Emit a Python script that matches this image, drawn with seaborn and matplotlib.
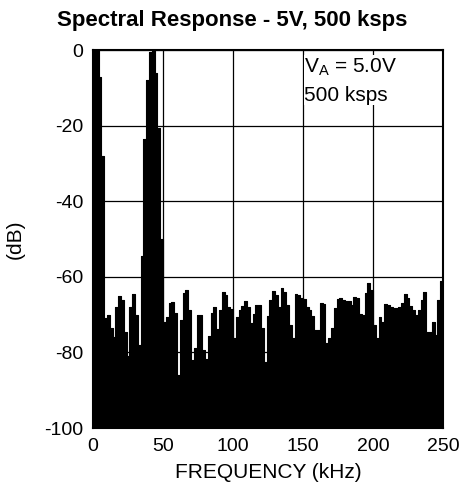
import numpy as np
import pandas as pd
import matplotlib
matplotlib.use('Agg')
import matplotlib.pyplot as plt
import seaborn as sns

# Spectrum levels, one per 2 kHz bin (0-250 kHz)
bin_width = 2.0
level_0_50 = [0, 0, -7, -28, -71, -70, -73.5, -76, -68, -65, -66, -74.5, -81,
              -68, -64.5, -70, -78, -54.5, -23.6, -7.8, -0.4, 0, -6, -20.7, -50]
level_50_100 = [-72, -70.5, -67, -66.6, -69.6, -86, -71.4, -64.2, -63.5, -68.8,
                -82, -78.8, -70, -70.1, -79.4, -81.6, -75.7, -69.5, -68.1, -73.9,
                -68.8, -63.9, -64.8, -67.9, -68.6]
level_100_150 = [-76.3, -70.5, -68.8, -67.7, -66.4, -67.9, -72.1, -69.7, -67.5,
                 -67.5, -73.6, -82.5, -70.4, -66.1, -63.8, -64.8, -67.9, -62.9,
                 -63.9, -67.5, -72.8, -76.3, -64.6, -64.8, -65.7]
level_150_200 = [-65.9, -68.1, -68.8, -70.4, -74.1, -74.1, -67, -67.2, -77.5,
                 -76.3, -73.6, -68.3, -65.9, -65.7, -66.1, -66.4, -66.4, -67.5,
                 -65.2, -65.7, -69.7, -70.1, -64.4, -61.6, -63.5]
level_200_250 = [-72.8, -76.3, -70.7, -71.9, -67.2, -67.5, -68.1, -68.3, -68.3,
                 -68.1, -67, -64.6, -65.7, -67.7, -68.8, -70.1, -68.8, -66.1,
                 -63.9, -74.5, -74.5, -71.9, -75.4, -66.1, -61]

levels = level_0_50 + level_50_100 + level_100_150 + level_150_200 + level_200_250
freq = np.arange(len(levels)) * bin_width

x_ticks = [0, 50, 100, 150, 200, 250]
y_ticks = [-100, -80, -60, -40, -20, 0]

sns.set_style('white')
plt.rcParams['font.family'] = ['Liberation Sans', 'DejaVu Sans']
plt.rcParams['text.color'] = 'black'
plt.rcParams['axes.labelcolor'] = 'black'
plt.rcParams['axes.unicode_minus'] = False

# close the last step at 250 kHz
df = pd.DataFrame({'freq': np.append(freq, 250), 'dB': levels + [levels[-1]]})

fig = plt.figure(figsize=(4.64, 4.96), dpi=100)
ax = fig.add_axes([0.2004, 0.137, 0.7543, 0.762])

ax.fill_between(df['freq'], df['dB'], -100, step='post', color='black',
                linewidth=0, zorder=2)
sns.lineplot(data=df, x='freq', y='dB', drawstyle='steps-post', color='black',
             linewidth=0.8, ax=ax, zorder=3)

ax.set_xlim(0, 250)
ax.set_ylim(-100, 0)
ax.set_xticks(x_ticks)
ax.set_yticks(y_ticks)
ax.grid(True, color='black', linewidth=0.9)
ax.set_axisbelow(True)
ax.tick_params(length=0, labelsize=14, pad=7, colors='black')
for s in ax.spines.values():
    s.set_color('black')
    s.set_linewidth(1.5)

ax.set_xlabel('FREQUENCY (kHz)', fontsize=15, labelpad=6)
ax.set_ylabel('(dB)', fontsize=15, labelpad=14)
fig.suptitle('Spectral Response - 5V, 500 ksps', fontsize=16,
             fontweight='bold', x=0.5, y=0.958, va='center')

ax.text(151, -1.8, '$\\mathregular{V_A}$ = 5.0V\n500 ksps', fontsize=15,
        va='top', ha='left', linespacing=1.5, zorder=4,
        bbox=dict(facecolor='white', edgecolor='none', pad=0.5))

fig.savefig('out.png', dpi=100)
